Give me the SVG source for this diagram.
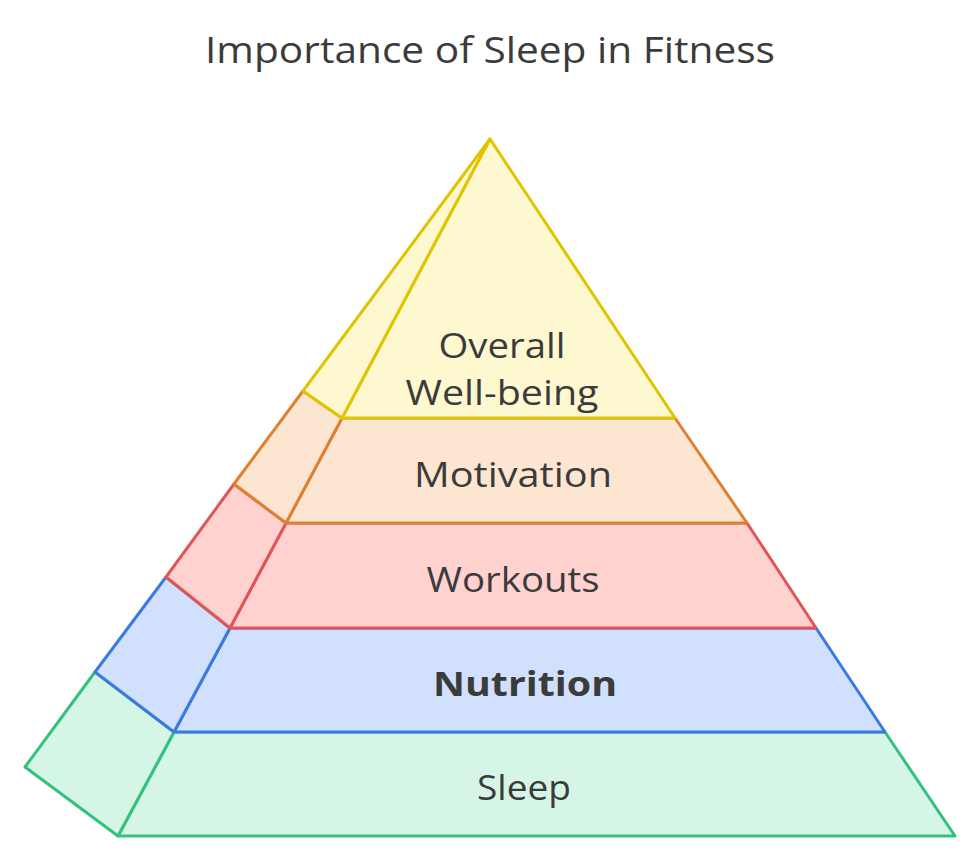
<svg xmlns="http://www.w3.org/2000/svg" width="980" height="862" viewBox="0 0 980 862">
<style>
.t{font-family:"Open Sans","Liberation Sans",sans-serif;fill:#3b3b3b;text-anchor:middle;font-size:34px}
.title{font-size:36px}
.b{font-weight:bold}
.s{stroke-width:3;stroke-linejoin:round}
.y{fill:#fef8d0;stroke:#e0c400}
.o{fill:#fde6d1;stroke:#de8030}
.r{fill:#ffd2d0;stroke:#e05656}
.bl{fill:#d0e0fd;stroke:#3b7ae0}
.g{fill:#d5f6e7;stroke:#35c07b}
</style>
<rect width="980" height="862" fill="#ffffff"/>
<text class="t title" x="490" y="63" textLength="570" lengthAdjust="spacingAndGlyphs">Importance of Sleep in Fitness</text>
<g id="sleep">
<polygon class="s g" points="174,732 885,732 955,836 118,836"/>
<polygon class="s g" points="95,672 174,732 118,836 25,767"/>
<text class="t" x="524" y="800" textLength="94" lengthAdjust="spacingAndGlyphs">Sleep</text>
</g>
<g id="nutrition">
<polygon class="s bl" points="230,628 816,628 885,732 174,732"/>
<polygon class="s bl" points="166,577 230,628 174,732 95,672"/>
<text class="t b" x="525" y="696" textLength="184" lengthAdjust="spacingAndGlyphs">Nutrition</text>
</g>
<g id="workouts">
<polygon class="s r" points="286,523 747,523 816,628 230,628"/>
<polygon class="s r" points="234,484 286,523 230,628 166,577"/>
<text class="t" x="513" y="592" textLength="173" lengthAdjust="spacingAndGlyphs">Workouts</text>
</g>
<g id="motivation">
<polygon class="s o" points="342,418 675,418 747,523 286,523"/>
<polygon class="s o" points="303,391 342,418 286,523 234,484"/>
<text class="t" x="513" y="487" textLength="198" lengthAdjust="spacingAndGlyphs">Motivation</text>
</g>
<g id="wellbeing">
<polygon class="s y" points="490,139 675,418 342,418"/>
<polygon class="s y" points="490,139 342,418 303,391"/>
<text class="t" x="502" y="358" textLength="127" lengthAdjust="spacingAndGlyphs">Overall</text>
<text class="t" x="502" y="405" textLength="193" lengthAdjust="spacingAndGlyphs">Well-being</text>
</g>
<g id="connectors"></g>
</svg>
